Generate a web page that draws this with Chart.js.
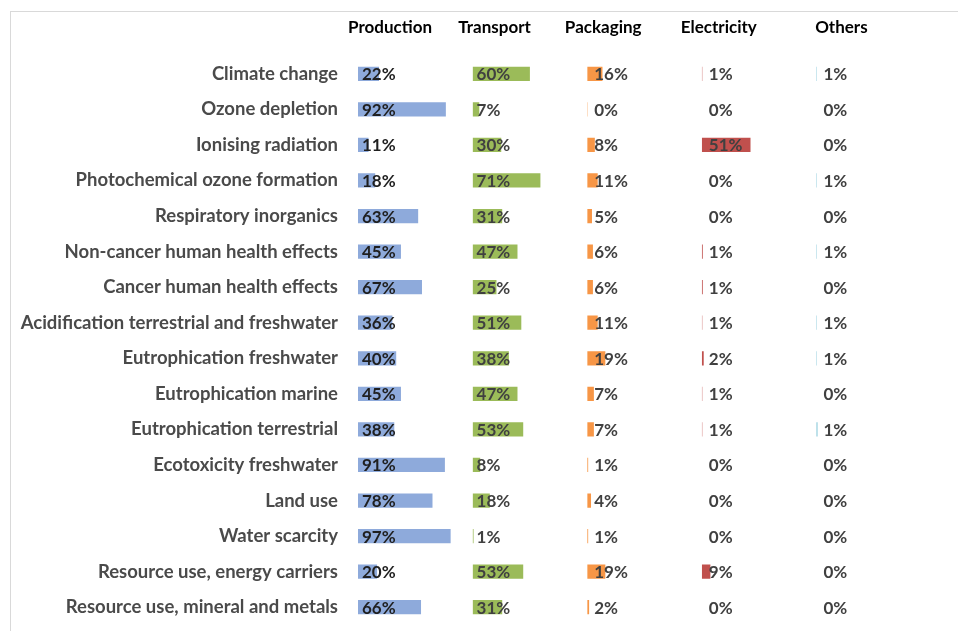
<!DOCTYPE html>
<html>
<head>
<meta charset="utf-8">
<script src="https://cdn.jsdelivr.net/npm/chart.js"></script>
<style>
  body { margin: 0; background: #fff; }
  #frame { position: absolute; left: 10px; top: 11px; right: 0; bottom: 0; border-top: 1px solid #d9d9d9; border-left: 1px solid #d9d9d9; }
  #wrap { position: absolute; left: 0; top: 0; width: 958px; height: 631px; }
</style>
</head>
<body>
<div id="frame"></div>
<div id="wrap"><canvas id="myChart"></canvas></div>
<script>
let categories = ['Climate change', 'Ozone depletion', 'Ionising radiation', 'Photochemical ozone formation',
    'Respiratory inorganics', 'Non-cancer human health effects', 'Cancer human health effects',
    'Acidification terrestrial and freshwater', 'Eutrophication freshwater', 'Eutrophication marine',
    'Eutrophication terrestrial', 'Ecotoxicity freshwater', 'Land use', 'Water scarcity',
    'Resource use, energy carriers', 'Resource use, mineral and metals'];

let headers = ['Production', 'Transport', 'Packaging', 'Electricity', 'Others'];

let production  = [22, 92, 11, 18, 63, 45, 67, 36, 40, 45, 38, 91, 78, 97, 20, 66];
let transport   = [60, 7, 30, 71, 31, 47, 25, 51, 38, 47, 53, 8, 18, 1, 53, 31];
let packaging   = [16, 0.4, 8, 11, 5, 6, 6, 11, 19, 7, 7, 1, 4, 1, 19, 2];
let electricity = [0.5, 0, 51, 0, 0, 1, 1, 0.5, 2, 0.5, 0.5, 0, 0, 0, 9, 0];
let others      = [0.5, 0, 0, 0.5, 0, 0.5, 0, 0.5, 0.5, 0, 1, 0, 0, 0, 0, 0];

let colors = ['#8eaadb', '#9bbb59', '#f79646', '#c0504d', '#4bacc6'];
let textColors = ['#1f1f1f', '#404040', '#404040', '#404040', '#404040'];
let headerShift = [32, 22, 16, 17, 25];

let series = [production, transport, packaging, electricity, others];

// one x scale per column, laid side by side through axis stacking
let scales = {
    y: {
        type: 'category',
        labels: categories,
        grid: { display: false, drawTicks: false },
        border: { display: false },
        ticks: { color: '#4a4a4a', font: { family: 'Lato', size: 18.5, weight: 'bold' }, padding: 20 },
        afterFit: function (scale) {
            scale.width = 358;
            scale.paddingTop = 0;
            scale.paddingBottom = 0;
        }
    }
};
let datasets = [];
series.forEach((values, i) => {
    scales['x' + i] = {
        type: 'linear',
        position: 'bottom',
        min: 0,
        max: 120,
        display: false,
        stack: 'cols',
        stackWeight: 1
    };
    datasets.push({
        label: headers[i],
        data: values,
        xAxisID: 'x' + i,
        backgroundColor: colors[i],
        grouped: false,
        barPercentage: 0.4,
        categoryPercentage: 1
    });
});

const labelPlugin = {
    id: 'cellLabels',
    afterDatasetsDraw(chart) {
        const ctx = chart.ctx;
        ctx.save();
        ctx.font = 'bold 17px Lato';
        ctx.textBaseline = 'middle';
        chart.data.datasets.forEach((ds, i) => {
            const meta = chart.getDatasetMeta(i);
            const xs = chart.scales[ds.xAxisID];
            ctx.textAlign = 'left';
            meta.data.forEach((bar, j) => {
                ctx.fillStyle = textColors[i];
                ctx.fillText(Math.round(ds.data[j]) + '%', xs.left + (i < 2 ? 4 : 7), bar.y + 1);
            });
            // column header
            ctx.fillStyle = '#000';
            ctx.textAlign = 'center';
            ctx.fillText(headers[i], xs.left + headerShift[i], 28);
        });
        ctx.restore();
    }
};

const ctx = document.getElementById('myChart');

new Chart(ctx, {
    type: 'bar',
    data: {
        labels: categories,
        datasets: datasets
    },
    options: {
        indexAxis: 'y',
        responsive: true,
        maintainAspectRatio: false,
        animation: false,
        layout: { padding: { top: 56, bottom: 6, right: 27, left: 0 } },
        plugins: {
            legend: { display: false },
            tooltip: { enabled: false }
        },
        scales: scales
    },
    plugins: [labelPlugin]
});
</script>
</body>
</html>
